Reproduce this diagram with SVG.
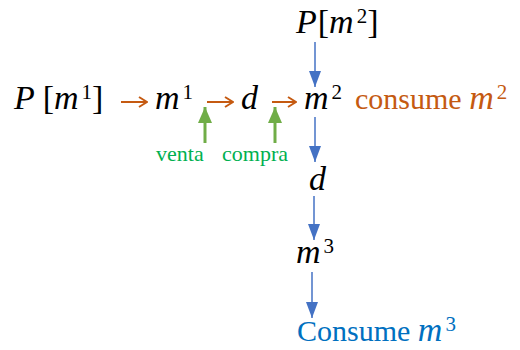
<svg xmlns="http://www.w3.org/2000/svg" width="520" height="350" viewBox="0 0 520 350">
<style>
.m{font-family:"Liberation Serif",serif;font-style:italic;font-size:34px;fill:#000}
.r{font-style:normal}
.t{font-style:normal;font-size:30px}
.sup{font-size:21px}
.or{fill:#C55A11}
.bl{fill:#0070C0}
.gr{font-family:"Liberation Serif",serif;font-size:22px;fill:#00B050}
.oa{stroke:#C55A11;stroke-width:2;fill:none}
.ba{stroke:#4472C4;stroke-width:1.5;fill:none}
.ga{stroke:#70AD47;stroke-width:3;fill:none}
</style>
<defs>
<marker id="ao" viewBox="0 0 10 12" refX="9" refY="6" markerWidth="10" markerHeight="12" markerUnits="userSpaceOnUse" orient="auto"><path d="M1,1 L9,6 L1,11" fill="none" stroke="#C55A11" stroke-width="2"/></marker>
<marker id="ab" viewBox="0 0 16 12" refX="16" refY="6" markerWidth="16" markerHeight="12" markerUnits="userSpaceOnUse" orient="auto"><path d="M0,0 L16,6 L0,12 Z" fill="#4472C4"/></marker>
<marker id="ag" viewBox="0 0 16 14" refX="16" refY="7" markerWidth="16" markerHeight="14" markerUnits="userSpaceOnUse" orient="auto"><path d="M0,0 L16,7 L0,14 Z" fill="#70AD47"/></marker>
</defs>
<g id="p-m1"><text class="m" x="14" y="109">P <tspan class="r">[</tspan>m<tspan class="r sup" dx="3" dy="-10">1</tspan><tspan class="r" dx="0" dy="10">]</tspan></text></g>
<g id="m1"><text class="m" x="155" y="109">m<tspan class="r sup" dx="3" dy="-10">1</tspan></text></g>
<g id="d1"><text class="m" x="241" y="109">d</text></g>
<g id="m2"><text class="m" x="304" y="109">m<tspan class="r sup" dx="3" dy="-10">2</tspan></text></g>
<g id="consume-m2"><text class="m or" x="355" y="109"><tspan class="t">consume </tspan>m<tspan class="r sup" dx="3" dy="-10">2</tspan></text></g>
<g id="p-m2"><text class="m" x="296" y="33">P<tspan class="r" dx="1">[</tspan>m<tspan class="r sup" dx="3" dy="-10">2</tspan><tspan class="r" dx="0" dy="10">]</tspan></text></g>
<g id="d2"><text class="m" x="309" y="190">d</text></g>
<g id="m3"><text class="m" x="296" y="263">m<tspan class="r sup" dx="3" dy="-10">3</tspan></text></g>
<g id="consume-m3"><text class="m bl" x="297" y="341"><tspan class="t">Consume </tspan>m<tspan class="r sup" dx="3" dy="-10">3</tspan></text></g>
<g id="venta"><text class="gr" x="156" y="161">venta</text></g>
<g id="compra"><text class="gr" x="222" y="161">compra</text></g>
<g id="connectors">
<line class="oa" x1="121" y1="102" x2="147" y2="102" marker-end="url(#ao)"/>
<line class="oa" x1="207" y1="102" x2="233" y2="102" marker-end="url(#ao)"/>
<line class="oa" x1="272" y1="102" x2="296" y2="102" marker-end="url(#ao)"/>
<line class="ga" x1="205" y1="143" x2="205" y2="107" marker-end="url(#ag)"/>
<line class="ga" x1="275" y1="143" x2="275" y2="107" marker-end="url(#ag)"/>
<line class="ba" x1="315" y1="42" x2="315" y2="87" marker-end="url(#ab)"/>
<line class="ba" x1="315" y1="117" x2="315" y2="162" marker-end="url(#ab)"/>
<line class="ba" x1="314" y1="196" x2="314" y2="240" marker-end="url(#ab)"/>
<line class="ba" x1="312" y1="272" x2="312" y2="318" marker-end="url(#ab)"/>
</g>
</svg>
